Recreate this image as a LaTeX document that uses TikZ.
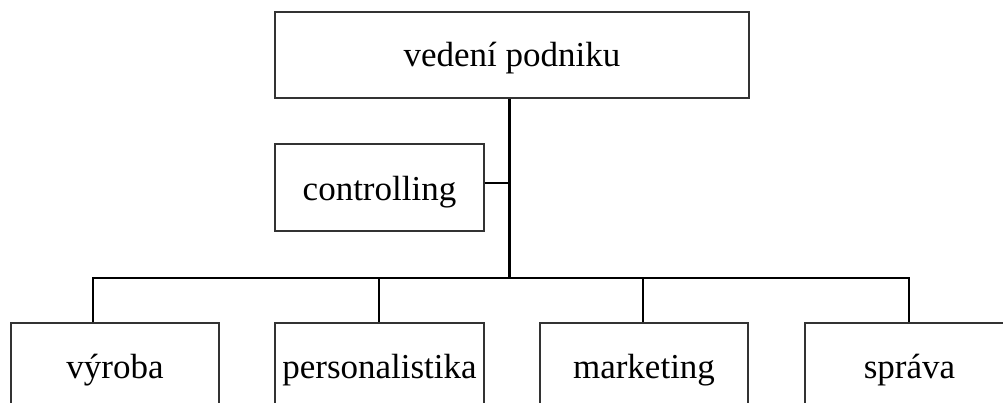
\documentclass[tikz,border=0pt]{standalone}
\usepackage{fontspec}
\setmainfont{Liberation Serif}
\begin{document}
\begin{tikzpicture}[x=1pt,y=-1pt,
  unit/.style={draw=black!80, line width=1.2pt, rectangle, inner sep=0pt,
    minimum height=87pt, text height=24pt, text depth=0pt,
    font=\fontsize{35}{41}\selectfont},
  link/.style={draw=black, line width=2.3pt, line join=miter}]
  \useasboundingbox (0,0) rectangle (1003,403);
  \clip (0,0) rectangle (1003,403);

  % management box and staff unit
  \node[unit, minimum width=474pt, minimum height=86pt] (top) at (512,55) {vedení podniku};
  \node[unit, minimum width=209pt, text height=27pt] (ctrl) at (379.5,187.5) {controlling};

  % departments
  \node[unit, minimum width=208pt] (b1) at (115,366.5) {výroba};
  \node[unit, minimum width=209pt] (b2) at (379.5,366.5) {personalistika};
  \node[unit, minimum width=208pt] (b3) at (644,366.5) {marketing};
  \node[unit, minimum width=209pt] (b4) at (909.5,366.5) {správa};

  % connector junctions
  \coordinate (j) at (509.5,183);
  \coordinate (barL) at (93,278);
  \coordinate (barR) at (909,278);
  \coordinate (d2) at (379,278);
  \coordinate (d3) at (643,278);

  % trunk, staff link and distribution bar
  \draw[link] (top.south -| j) -- (j |- barL);
  \draw[link] (ctrl.east |- j) -- (j);
  \draw[link] (b1.north -| barL) -- (barL) -- (barR) -- (b4.north -| barR);
  \draw[link] (d2) -- (b2.north -| d2);
  \draw[link] (d3) -- (b3.north -| d3);
\end{tikzpicture}
\end{document}
